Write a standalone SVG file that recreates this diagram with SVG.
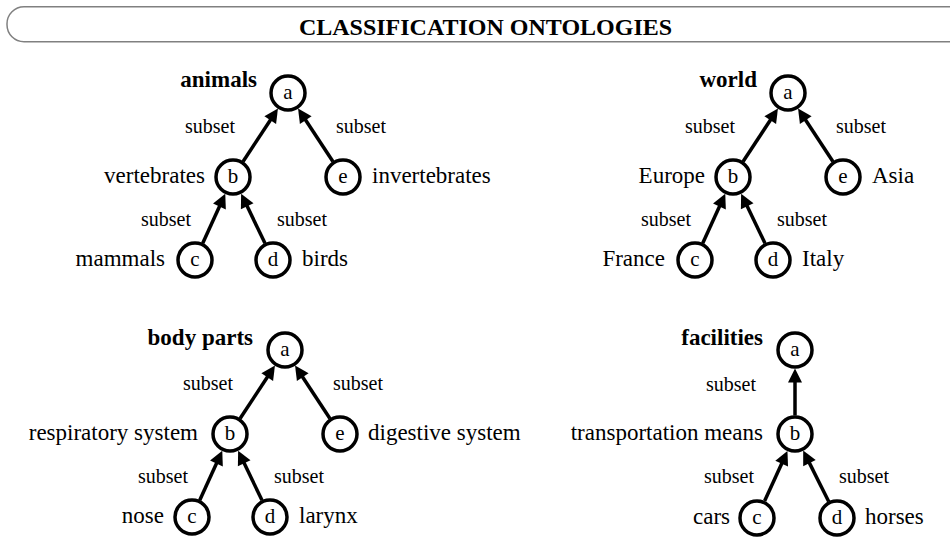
<svg xmlns="http://www.w3.org/2000/svg" width="950" height="538" viewBox="0 0 950 538">
<style>
text{font-family:"Liberation Serif","Times New Roman",serif;fill:#000}
.hd{font-size:24px;font-weight:bold;text-anchor:middle}
.ttl{font-size:23px;font-weight:bold;text-anchor:end}
.lbl{font-size:23px}
.l{text-anchor:end}
.sub{font-size:20px}
.nl{font-size:21px;text-anchor:middle}
circle.n{fill:#fff;stroke:#000;stroke-width:3.5}
path.e{fill:none;stroke:#000;stroke-width:3.5;marker-end:url(#ah)}
</style>
<defs>
<marker id="ah" markerUnits="userSpaceOnUse" markerWidth="15" markerHeight="15" refX="3" refY="7" orient="auto" overflow="visible">
<path d="M0,0 L14,7 L0,14 z" fill="#000"/>
</marker>
</defs>
<rect width="950" height="538" fill="#fff"/>
<g id="header">
<rect x="7" y="6.7" width="970" height="35" rx="17" ry="17" fill="none" stroke="#808080" stroke-width="1.5"/>
<text class="hd" x="485.5" y="35">CLASSIFICATION ONTOLOGIES</text>
</g>

<g id="connectors">
<g transform="translate(288,93)">
<path class="e" d="M-44.9,68.5 L-16.1,24.7"/>
<path class="e" d="M44.9,68.5 L16.1,24.7"/>
<path class="e" d="M-85.3,150.2 L-67.3,110.8"/>
<path class="e" d="M-23,150.3 L-42.1,110.6"/>
<text class="sub l" x="-53" y="40">subset</text>
<text class="sub" x="48" y="40">subset</text>
<text class="sub l" x="-97" y="133">subset</text>
<text class="sub" x="-11" y="133">subset</text>
</g>
<g transform="translate(788,93)">
<path class="e" d="M-44.9,68.5 L-16.1,24.7"/>
<path class="e" d="M44.9,68.5 L16.1,24.7"/>
<path class="e" d="M-85.3,150.2 L-67.3,110.8"/>
<path class="e" d="M-23,150.3 L-42.1,110.6"/>
<text class="sub l" x="-53" y="40">subset</text>
<text class="sub" x="48" y="40">subset</text>
<text class="sub l" x="-97" y="133">subset</text>
<text class="sub" x="-11" y="133">subset</text>
</g>
<g transform="translate(285,350)">
<path class="e" d="M-44.9,68.5 L-16.1,24.7"/>
<path class="e" d="M44.9,68.5 L16.1,24.7"/>
<path class="e" d="M-85.3,150.2 L-67.3,110.8"/>
<path class="e" d="M-23,150.3 L-42.1,110.6"/>
<text class="sub l" x="-52" y="40">subset</text>
<text class="sub" x="48" y="40">subset</text>
<text class="sub l" x="-97" y="133">subset</text>
<text class="sub" x="-11" y="133">subset</text>
</g>
<g transform="translate(795,350)">
<path class="e" d="M0,65.5 L0,29.5"/>
<path class="e" d="M-30.4,151.1 L-12.1,110.9"/>
<path class="e" d="M33.7,151.5 L13.1,110.4"/>
<text class="sub l" x="-39" y="41">subset</text>
<text class="sub l" x="-41" y="133">subset</text>
<text class="sub" x="44" y="133">subset</text>
</g>
</g>

<g id="animals" transform="translate(288,93)">
<text class="ttl" x="-31" y="-6">animals</text>
<g id="animals-a"><circle class="n" cx="0" cy="0" r="17"/><text class="nl" x="0" y="6">a</text></g>
<g id="animals-b"><circle class="n" cx="-55" cy="84" r="17"/><text class="nl" x="-55" y="90">b</text><text class="lbl l" x="-83" y="90">vertebrates</text></g>
<g id="animals-e"><circle class="n" cx="55" cy="84" r="17"/><text class="nl" x="55" y="90">e</text><text class="lbl" x="84" y="90">invertebrates</text></g>
<g id="animals-c"><circle class="n" cx="-93" cy="167" r="17"/><text class="nl" x="-93" y="173">c</text><text class="lbl l" x="-123" y="173">mammals</text></g>
<g id="animals-d"><circle class="n" cx="-15" cy="167" r="17"/><text class="nl" x="-15" y="173">d</text><text class="lbl" x="14" y="173">birds</text></g>
</g>

<g id="world" transform="translate(788,93)">
<text class="ttl" x="-31" y="-6">world</text>
<g id="world-a"><circle class="n" cx="0" cy="0" r="17"/><text class="nl" x="0" y="6">a</text></g>
<g id="world-b"><circle class="n" cx="-55" cy="84" r="17"/><text class="nl" x="-55" y="90">b</text><text class="lbl l" x="-83" y="90">Europe</text></g>
<g id="world-e"><circle class="n" cx="55" cy="84" r="17"/><text class="nl" x="55" y="90">e</text><text class="lbl" x="84" y="90">Asia</text></g>
<g id="world-c"><circle class="n" cx="-93" cy="167" r="17"/><text class="nl" x="-93" y="173">c</text><text class="lbl l" x="-123" y="173">France</text></g>
<g id="world-d"><circle class="n" cx="-15" cy="167" r="17"/><text class="nl" x="-15" y="173">d</text><text class="lbl" x="14" y="173">Italy</text></g>
</g>

<g id="body-parts" transform="translate(285,350)">
<text class="ttl" x="-32" y="-5">body parts</text>
<g id="body-a"><circle class="n" cx="0" cy="0" r="17"/><text class="nl" x="0" y="6">a</text></g>
<g id="body-b"><circle class="n" cx="-55" cy="84" r="17"/><text class="nl" x="-55" y="90">b</text><text class="lbl l" x="-87" y="90">respiratory system</text></g>
<g id="body-e"><circle class="n" cx="55" cy="84" r="17"/><text class="nl" x="55" y="90">e</text><text class="lbl" x="83" y="90">digestive system</text></g>
<g id="body-c"><circle class="n" cx="-93" cy="167" r="17"/><text class="nl" x="-93" y="173">c</text><text class="lbl l" x="-121" y="173">nose</text></g>
<g id="body-d"><circle class="n" cx="-15" cy="167" r="17"/><text class="nl" x="-15" y="173">d</text><text class="lbl" x="14" y="173">larynx</text></g>
</g>

<g id="facilities" transform="translate(795,350)">
<text class="ttl" x="-32" y="-5">facilities</text>
<g id="facilities-a"><circle class="n" cx="0" cy="0" r="17"/><text class="nl" x="0" y="6">a</text></g>
<g id="facilities-b"><circle class="n" cx="0" cy="84" r="17"/><text class="nl" x="0" y="90">b</text><text class="lbl l" x="-32" y="90">transportation means</text></g>
<g id="facilities-c"><circle class="n" cx="-38" cy="168" r="17"/><text class="nl" x="-38" y="174">c</text><text class="lbl l" x="-65" y="174">cars</text></g>
<g id="facilities-d"><circle class="n" cx="42" cy="168" r="17"/><text class="nl" x="42" y="174">d</text><text class="lbl" x="70" y="174">horses</text></g>
</g>
</svg>
